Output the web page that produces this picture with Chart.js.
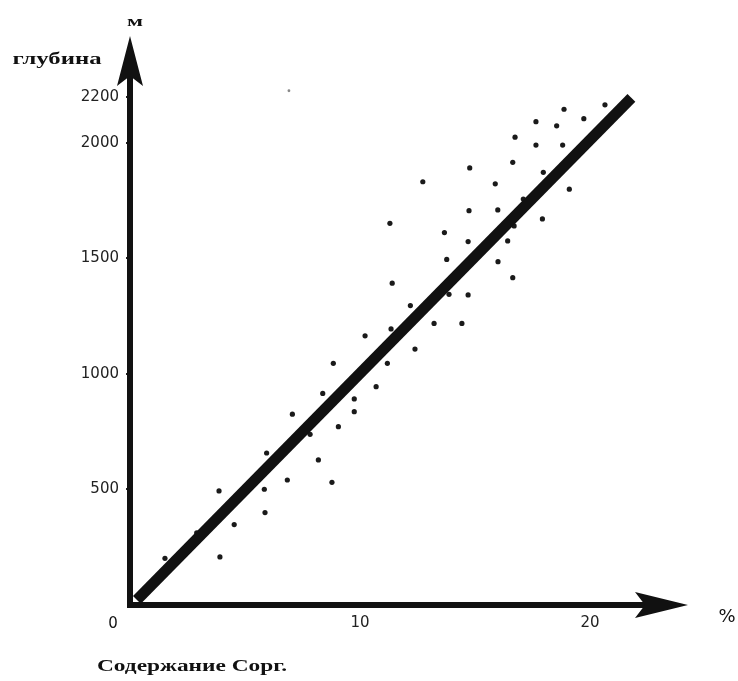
<!DOCTYPE html>
<html>
<head>
<meta charset="utf-8">
<script src="https://cdn.jsdelivr.net/npm/chart.js@4.4.1/dist/chart.umd.min.js"></script>
<style>
  html, body { margin: 0; padding: 0; background: #fff; }
  #wrap { width: 738px; height: 681px; }
</style>
</head>
<body>
<div id="wrap"><canvas id="c" width="738" height="681"></canvas></div>
<script>
// ---- data ----
const sampleX = [1.52, 3.91, 3.87, 4.53, 2.9, 5.84, 5.87, 5.94, 6.84, 7.06, 8.19, 8.78, 9.06, 9.75, 9.75, 7.83, 8.38, 8.84, 10.7, 11.19, 10.22, 11.35, 11.4, 12.39, 12.19, 13.22, 14.43, 13.87, 14.7, 13.77, 16.0, 11.3, 13.67, 14.7, 16.42, 16.64, 14.74, 15.99, 17.93, 12.73, 14.77, 15.88, 16.64, 17.97, 19.1, 16.74, 17.65, 18.81, 17.65, 18.55, 18.87, 19.73, 20.65, 16.7, 17.1];
const sampleDepth = [202, 208, 494, 348, 312, 501, 400, 658, 541, 826, 628, 531, 772, 892, 837, 739, 916, 1046, 945, 1046, 1165, 1195, 1393, 1108, 1296, 1219, 1219, 1345, 1342, 1496, 1486, 1652, 1612, 1573, 1576, 1417, 1707, 1710, 1671, 1832, 1892, 1823, 1916, 1873, 1800, 2025, 1991, 1991, 2092, 2074, 2146, 2105, 2165, 1641, 1757];
const strayX = [6.91];
const strayDepth = [2226];
const trendX = [0.3, 21.8];
const trendDepth = [22, 2195];
const xTickValues = [10, 20];
const yTickValues = [500, 1000, 1500, 2000, 2200];
const xMax = 24.26;
const yMax = 2463;

const toPts = (xs, ys) => xs.map((x, i) => ({ x: x, y: ys[i] }));

function stretchText(ctx, text, cx, cy, width, font) {
  ctx.save();
  ctx.font = font;
  const w = ctx.measureText(text).width;
  ctx.translate(cx, cy);
  ctx.scale(width / w, 1);
  ctx.textAlign = 'center';
  ctx.textBaseline = 'middle';
  ctx.fillText(text, 0, 0);
  ctx.restore();
}

const axesPlugin = {
  id: 'axesArrows',
  beforeDatasetsDraw(chart) {
    const ctx = chart.ctx;
    const xs = chart.scales.x, ys = chart.scales.y;
    const ox = xs.getPixelForValue(0);
    const oy = ys.getPixelForValue(0);
    const xr = xs.right, yt = ys.top;
    ctx.save();
    ctx.fillStyle = '#111';
    ctx.strokeStyle = '#111';
    ctx.lineWidth = 6;
    ctx.lineCap = 'butt';
    // x axis
    ctx.beginPath();
    ctx.moveTo(ox - 3, oy);
    ctx.lineTo(xr - 40, oy);
    ctx.stroke();
    ctx.beginPath();
    ctx.moveTo(xr, oy);
    ctx.lineTo(xr - 53, oy - 13);
    ctx.lineTo(xr - 43, oy);
    ctx.lineTo(xr - 53, oy + 13);
    ctx.closePath();
    ctx.fill();
    // y axis
    ctx.beginPath();
    ctx.moveTo(ox, oy + 3);
    ctx.lineTo(ox, yt + 40);
    ctx.stroke();
    ctx.beginPath();
    ctx.moveTo(ox, yt);
    ctx.lineTo(ox - 13, yt + 50);
    ctx.lineTo(ox, yt + 40);
    ctx.lineTo(ox + 13, yt + 50);
    ctx.closePath();
    ctx.fill();
    ctx.restore();
  },
  afterDraw(chart) {
    const ctx = chart.ctx;
    ctx.save();
    ctx.fillStyle = '#111';
    stretchText(ctx, 'м', 135, 22, 16, 'bold 15px "Liberation Serif"');
    stretchText(ctx, 'глубина', 57, 60, 89, 'bold 16px "Liberation Serif"');
    stretchText(ctx, 'Содержание Сорг.', 192, 667, 190, 'bold 16px "Liberation Serif"');
    ctx.font = '18px "DejaVu Sans"';
    ctx.textAlign = 'center';
    ctx.textBaseline = 'middle';
    ctx.fillText('%', 727, 617);
    ctx.font = '15px "DejaVu Sans"';
    ctx.fillText('0', 113, 624);
    ctx.restore();
  }
};

new Chart(document.getElementById('c'), {
  type: 'scatter',
  data: {
    datasets: [
      {
        label: 'trend',
        type: 'line',
        data: toPts(trendX, trendDepth),
        borderColor: '#111',
        borderWidth: 11,
        borderCapStyle: 'butt',
        pointRadius: 0,
        fill: false,
        clip: false,
        order: 1
      },
      {
        label: 'samples',
        data: toPts(sampleX, sampleDepth),
        backgroundColor: '#1a1a1a',
        borderColor: '#1a1a1a',
        pointRadius: 2.6,
        borderWidth: 0,
        clip: false,
        order: 2
      },
      {
        label: 'stray',
        data: toPts(strayX, strayDepth),
        backgroundColor: '#888',
        borderColor: '#888',
        pointRadius: 1.4,
        borderWidth: 0,
        clip: false,
        order: 3
      }
    ]
  },
  options: {
    responsive: false,
    animation: false,
    devicePixelRatio: 1,
    layout: { padding: { top: 36, right: 50, left: 0, bottom: 0 } },
    plugins: { legend: { display: false }, tooltip: { enabled: false } },
    scales: {
      x: {
        type: 'linear',
        min: 0,
        max: xMax,
        border: { display: false },
        grid: { display: false, drawTicks: false },
        afterBuildTicks: s => { s.ticks = xTickValues.map(v => ({ value: v })); },
        afterFit: s => { s.height = 76; },
        ticks: {
          color: '#222',
          padding: 9,
          maxRotation: 0,
          font: { family: 'DejaVu Sans', size: 15 },
          callback: v => String(v)
        }
      },
      y: {
        type: 'linear',
        min: 0,
        max: yMax,
        border: { display: false },
        grid: { display: true, drawOnChartArea: false, drawTicks: true, tickLength: 4, color: '#222', lineWidth: 2 },
        afterBuildTicks: s => { s.ticks = yTickValues.map(v => ({ value: v })); },
        afterFit: s => { s.width = 130; },
        ticks: {
          color: '#222',
          padding: 7,
          font: { family: 'DejaVu Sans', size: 15 },
          callback: v => String(v)
        }
      }
    }
  },
  plugins: [axesPlugin]
});
</script>
</body>
</html>
